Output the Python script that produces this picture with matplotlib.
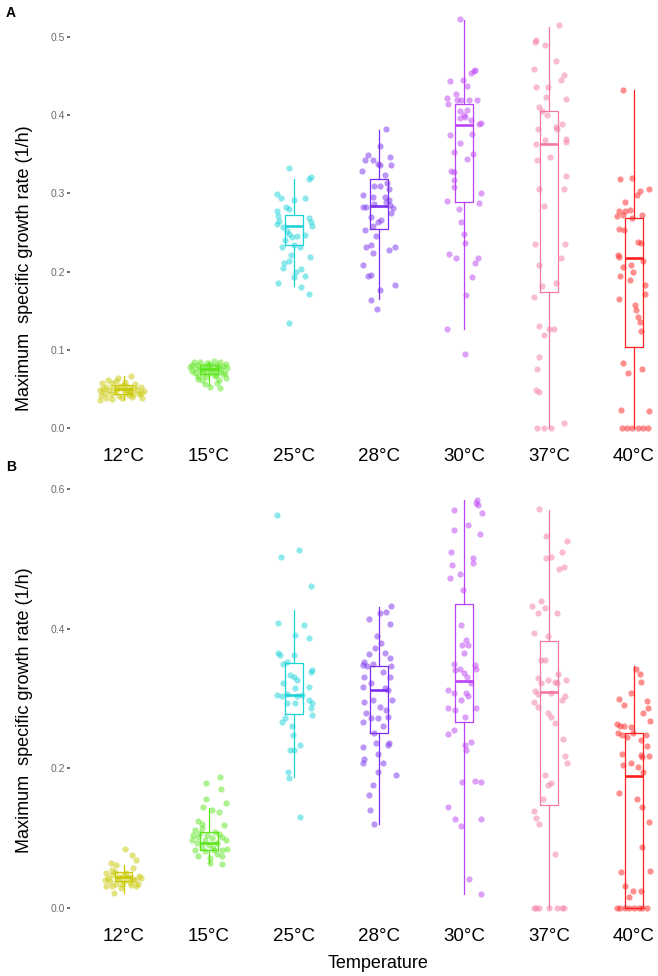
"""Growth rate vs temperature: two stacked box + jitter panels (A, B)."""

import matplotlib
matplotlib.use("Agg")
import matplotlib.pyplot as plt

# ==============================================================================
# DATA
# ==============================================================================

TEMPS = ["12°C", "15°C", "25°C", "28°C", "30°C", "37°C", "40°C"]
COLORS = ["#C8C800", "#5DE61E", "#1CD3D8", "#7A2EF0", "#BD42F5", "#F57AA0", "#FF1F1F"]

# box statistics (per temperature)
A_LO = [0.036, 0.055, 0.181, 0.165, 0.127, 0.000, 0.000]
A_Q1 = [0.044, 0.069, 0.234, 0.254, 0.289, 0.174, 0.104]
A_MED = [0.050, 0.075, 0.258, 0.284, 0.387, 0.363, 0.217]
A_Q3 = [0.055, 0.080, 0.272, 0.318, 0.414, 0.405, 0.268]
A_HI = [0.066, 0.086, 0.319, 0.381, 0.522, 0.513, 0.432]

B_LO = [0.021, 0.064, 0.188, 0.121, 0.020, 0.000, 0.000]
B_Q1 = [0.038, 0.083, 0.278, 0.250, 0.266, 0.148, 0.000]
B_MED = [0.045, 0.093, 0.305, 0.312, 0.325, 0.310, 0.189]
B_Q3 = [0.052, 0.109, 0.351, 0.347, 0.436, 0.382, 0.251]
B_HI = [0.062, 0.143, 0.427, 0.431, 0.584, 0.570, 0.346]

# individual replicates: (jitter offset, growth rate)
A_12 = [(0.09, 0.066), (-0.06, 0.064), (-0.25, 0.057), (-0.14, 0.058), (0.02, 0.059),
        (-0.20, 0.053), (-0.12, 0.052), (-0.04, 0.054), (0.05, 0.053), (0.12, 0.051),
        (0.20, 0.052), (-0.28, 0.049), (-0.17, 0.048), (-0.08, 0.050), (0.00, 0.049),
        (0.08, 0.048), (0.16, 0.049), (0.24, 0.047), (-0.22, 0.045), (-0.10, 0.046),
        (0.03, 0.045), (0.11, 0.044), (-0.26, 0.042), (-0.15, 0.043), (-0.05, 0.041),
        (0.07, 0.042), (0.18, 0.043), (-0.20, 0.039), (-0.02, 0.038), (0.10, 0.040),
        (0.22, 0.038), (-0.28, 0.036), (-0.13, 0.037), (0.00, 0.055), (-0.09, 0.060),
        (0.14, 0.056), (-0.18, 0.061), (0.05, 0.047), (-0.24, 0.050), (0.20, 0.045)]
A_15 = [(-0.17, 0.084), (-0.10, 0.085), (-0.02, 0.083), (0.06, 0.086), (0.14, 0.084),
        (0.20, 0.082), (-0.20, 0.080), (-0.12, 0.081), (-0.05, 0.079), (0.03, 0.080),
        (0.10, 0.081), (0.17, 0.079), (-0.15, 0.077), (-0.07, 0.076), (0.00, 0.077),
        (0.08, 0.076), (0.15, 0.075), (0.22, 0.077), (-0.19, 0.073), (-0.10, 0.074),
        (-0.03, 0.072), (0.05, 0.073), (0.12, 0.072), (0.19, 0.071), (-0.16, 0.070),
        (-0.06, 0.069), (0.02, 0.070), (0.09, 0.068), (0.17, 0.069), (-0.13, 0.066),
        (-0.03, 0.065), (0.07, 0.066), (0.21, 0.064), (-0.08, 0.061), (0.12, 0.062),
        (-0.04, 0.056), (0.10, 0.058), (0.02, 0.053), (0.13, 0.051), (-0.12, 0.063),
        (0.00, 0.081), (-0.22, 0.078), (0.11, 0.078)]
A_25 = [(-0.05, 0.332), (0.18, 0.319), (0.20, 0.321), (0.01, 0.292), (0.13, 0.294),
        (-0.19, 0.299), (-0.15, 0.294), (-0.09, 0.283), (-0.06, 0.280), (-0.20, 0.278),
        (-0.18, 0.271), (-0.17, 0.265), (-0.19, 0.261), (-0.13, 0.257), (-0.08, 0.252),
        (0.18, 0.268), (0.20, 0.263), (0.21, 0.258), (-0.06, 0.248), (-0.02, 0.244),
        (0.04, 0.246), (0.13, 0.247), (-0.14, 0.232), (-0.10, 0.240), (0.01, 0.234),
        (0.07, 0.231), (-0.03, 0.221), (-0.05, 0.213), (0.19, 0.219), (-0.11, 0.211),
        (-0.13, 0.205), (0.09, 0.204), (0.03, 0.200), (0.01, 0.193), (0.13, 0.194),
        (-0.18, 0.185), (0.09, 0.180), (0.18, 0.171), (-0.06, 0.134)]
A_28 = [(0.09, 0.382), (0.01, 0.361), (-0.13, 0.349), (-0.16, 0.343), (-0.07, 0.343),
        (-0.01, 0.338), (0.01, 0.336), (0.13, 0.346), (0.15, 0.336), (-0.20, 0.329),
        (0.07, 0.324), (0.10, 0.313), (0.12, 0.306), (-0.05, 0.309), (0.01, 0.309),
        (-0.18, 0.298), (-0.07, 0.295), (-0.05, 0.287), (-0.15, 0.283), (-0.18, 0.283),
        (0.09, 0.289), (0.13, 0.285), (0.17, 0.281), (0.15, 0.275), (-0.09, 0.270),
        (0.03, 0.266), (-0.01, 0.264), (-0.07, 0.258), (-0.16, 0.253), (-0.03, 0.246),
        (-0.15, 0.231), (-0.09, 0.234), (0.19, 0.232), (0.12, 0.228), (-0.07, 0.224),
        (-0.18, 0.208), (-0.13, 0.194), (-0.09, 0.196), (0.02, 0.176), (0.19, 0.183),
        (-0.09, 0.164), (-0.02, 0.152), (0.07, 0.296), (0.12, 0.292)]
A_30 = [(-0.04, 0.523), (0.12, 0.457), (0.09, 0.454), (0.13, 0.458), (-0.16, 0.444),
        (-0.01, 0.445), (0.04, 0.437), (-0.09, 0.427), (-0.20, 0.422), (-0.18, 0.415),
        (-0.08, 0.419), (-0.03, 0.420), (0.06, 0.419), (0.16, 0.419), (-0.04, 0.406),
        (0.00, 0.400), (0.04, 0.407), (0.08, 0.394), (0.20, 0.390), (0.18, 0.389),
        (-0.16, 0.375), (-0.04, 0.396), (0.02, 0.398), (0.10, 0.376), (-0.04, 0.364),
        (-0.12, 0.353), (0.11, 0.351), (0.04, 0.344), (-0.15, 0.329), (-0.11, 0.327),
        (-0.12, 0.317), (-0.11, 0.308), (0.20, 0.300), (0.18, 0.288), (-0.20, 0.290),
        (-0.06, 0.280), (-0.03, 0.264), (0.00, 0.248), (0.02, 0.236), (-0.17, 0.223),
        (-0.09, 0.217), (0.17, 0.218), (0.13, 0.211), (0.10, 0.193), (0.03, 0.170),
        (-0.20, 0.127), (0.01, 0.095)]
A_37 = [(0.12, 0.515), (-0.15, 0.496), (-0.16, 0.494), (-0.04, 0.490), (0.08, 0.469),
        (-0.18, 0.459), (0.14, 0.445), (0.18, 0.451), (-0.15, 0.436), (-0.01, 0.436),
        (-0.03, 0.423), (0.20, 0.421), (-0.12, 0.410), (-0.08, 0.405), (-0.02, 0.400),
        (0.16, 0.389), (0.08, 0.385), (0.09, 0.383), (-0.13, 0.383), (0.20, 0.369),
        (0.20, 0.366), (-0.15, 0.363), (-0.04, 0.368), (0.01, 0.347), (-0.14, 0.343),
        (0.20, 0.322), (0.18, 0.306), (-0.12, 0.306), (-0.06, 0.284), (-0.16, 0.235),
        (0.19, 0.235), (-0.12, 0.208), (0.14, 0.217), (0.08, 0.185), (-0.08, 0.182),
        (-0.18, 0.168), (-0.11, 0.130), (0.00, 0.127), (0.06, 0.127), (-0.06, 0.119),
        (-0.11, 0.091), (-0.14, 0.076), (-0.15, 0.049), (-0.12, 0.046), (0.18, 0.006),
        (-0.14, 0.000), (-0.06, 0.000), (0.02, 0.000)]
A_40 = [(-0.13, 0.432), (-0.16, 0.319), (-0.02, 0.320), (0.18, 0.306), (0.07, 0.303),
        (0.04, 0.298), (-0.10, 0.289), (-0.17, 0.277), (-0.11, 0.277), (-0.05, 0.279),
        (-0.02, 0.268), (-0.20, 0.271), (-0.13, 0.272), (0.09, 0.272), (-0.18, 0.255),
        (-0.12, 0.253), (0.05, 0.238), (0.08, 0.236), (-0.19, 0.221), (-0.17, 0.219),
        (-0.13, 0.206), (-0.03, 0.208), (0.11, 0.213), (-0.16, 0.194), (-0.01, 0.199),
        (-0.05, 0.189), (0.13, 0.183), (0.13, 0.171), (-0.17, 0.165), (0.01, 0.157),
        (0.03, 0.151), (0.05, 0.142), (0.07, 0.136), (0.08, 0.124), (-0.13, 0.083),
        (0.09, 0.075), (-0.07, 0.070), (-0.15, 0.023), (0.18, 0.022), (-0.14, 0.000),
        (-0.08, 0.000), (-0.02, 0.000), (0.05, 0.000), (0.11, 0.000), (0.16, 0.000)]

B_12 = [(0.02, 0.084), (0.10, 0.076), (0.15, 0.069), (-0.15, 0.064), (-0.09, 0.062),
        (0.11, 0.057), (-0.21, 0.050), (-0.13, 0.047), (-0.05, 0.045), (0.03, 0.050),
        (0.11, 0.042), (0.17, 0.035), (-0.16, 0.038), (-0.09, 0.035), (0.01, 0.038),
        (0.09, 0.033), (-0.20, 0.031), (-0.13, 0.032), (-0.03, 0.028), (0.15, 0.032),
        (-0.11, 0.021), (-0.18, 0.043), (-0.06, 0.041), (0.06, 0.044), (0.18, 0.046),
        (-0.10, 0.052), (0.00, 0.048), (0.13, 0.040), (-0.22, 0.040), (0.08, 0.037),
        (-0.02, 0.034), (0.20, 0.043), (-0.14, 0.055)]
B_15 = [(0.14, 0.187), (-0.03, 0.179), (0.15, 0.171), (-0.03, 0.156), (0.20, 0.151),
        (-0.06, 0.144), (0.12, 0.138), (0.04, 0.140), (-0.12, 0.124), (-0.08, 0.120),
        (-0.16, 0.112), (-0.08, 0.114), (0.18, 0.119), (0.08, 0.109), (-0.18, 0.105),
        (-0.12, 0.102), (-0.04, 0.097), (0.04, 0.100), (0.16, 0.102), (-0.14, 0.093),
        (-0.08, 0.088), (0.00, 0.090), (0.10, 0.093), (0.20, 0.097), (-0.16, 0.083),
        (-0.04, 0.081), (0.06, 0.083), (0.16, 0.083), (0.22, 0.085), (-0.12, 0.074),
        (0.02, 0.071), (0.16, 0.074), (0.02, 0.065), (0.16, 0.063), (-0.20, 0.098),
        (0.12, 0.106), (-0.10, 0.108), (0.05, 0.086), (-0.02, 0.104), (0.10, 0.078)]
B_25 = [(-0.19, 0.563), (-0.15, 0.502), (0.06, 0.513), (0.20, 0.461), (-0.18, 0.408),
        (0.12, 0.405), (0.02, 0.391), (0.18, 0.386), (-0.18, 0.365), (-0.16, 0.362),
        (0.00, 0.362), (-0.12, 0.350), (-0.08, 0.353), (0.22, 0.341), (0.20, 0.338),
        (-0.04, 0.334), (0.00, 0.331), (0.04, 0.326), (-0.12, 0.322), (0.18, 0.317),
        (0.02, 0.315), (-0.20, 0.305), (-0.14, 0.303), (-0.08, 0.306), (0.04, 0.303),
        (0.10, 0.305), (0.18, 0.298), (0.22, 0.293), (0.20, 0.287), (0.22, 0.276),
        (-0.08, 0.293), (0.02, 0.293), (-0.14, 0.267), (-0.10, 0.272), (-0.02, 0.260),
        (-0.01, 0.248), (0.08, 0.233), (-0.04, 0.226), (0.01, 0.226), (-0.07, 0.195),
        (-0.05, 0.186), (0.07, 0.131)]
B_28 = [(0.15, 0.432), (0.09, 0.424), (0.01, 0.422), (-0.12, 0.414), (0.13, 0.407),
        (-0.02, 0.389), (0.03, 0.379), (-0.04, 0.373), (-0.12, 0.364), (0.07, 0.365),
        (0.13, 0.358), (-0.17, 0.353), (-0.19, 0.348), (-0.14, 0.347), (-0.07, 0.350),
        (0.14, 0.346), (0.05, 0.338), (0.13, 0.331), (-0.17, 0.331), (-0.19, 0.317),
        (-0.09, 0.322), (0.07, 0.315), (0.11, 0.312), (0.16, 0.298), (-0.07, 0.298),
        (-0.17, 0.295), (0.09, 0.284), (0.01, 0.288), (-0.15, 0.279), (-0.09, 0.272),
        (-0.01, 0.272), (0.11, 0.274), (-0.18, 0.266), (0.05, 0.260), (-0.05, 0.250),
        (0.12, 0.236), (0.11, 0.233), (-0.19, 0.231), (-0.03, 0.237), (-0.01, 0.221),
        (-0.19, 0.208), (-0.17, 0.213), (0.05, 0.208), (-0.01, 0.195), (0.20, 0.190),
        (-0.07, 0.176), (-0.11, 0.162), (-0.10, 0.140), (-0.05, 0.120)]
B_30 = [(0.16, 0.585), (0.14, 0.580), (0.17, 0.577), (0.21, 0.566), (-0.11, 0.570),
        (0.05, 0.548), (-0.12, 0.542), (0.19, 0.536), (-0.15, 0.510), (-0.14, 0.491),
        (0.11, 0.501), (0.11, 0.494), (-0.16, 0.473), (-0.04, 0.479), (-0.01, 0.455),
        (-0.03, 0.406), (0.03, 0.384), (-0.02, 0.377), (0.05, 0.377), (0.00, 0.365),
        (-0.11, 0.350), (-0.10, 0.341), (-0.04, 0.342), (0.00, 0.336), (0.13, 0.348),
        (0.14, 0.342), (0.04, 0.331), (0.08, 0.322), (-0.19, 0.312), (-0.11, 0.308),
        (-0.03, 0.298), (0.03, 0.308), (0.05, 0.303), (0.14, 0.287), (-0.10, 0.284),
        (-0.18, 0.287), (0.01, 0.274), (-0.18, 0.249), (-0.11, 0.255), (0.08, 0.238),
        (0.03, 0.227), (0.01, 0.234), (-0.02, 0.180), (0.13, 0.182), (0.20, 0.180),
        (-0.19, 0.144), (-0.10, 0.127), (-0.03, 0.117), (0.20, 0.127), (0.06, 0.042),
        (0.20, 0.020)]
B_37 = [(-0.11, 0.571), (-0.03, 0.533), (0.21, 0.526), (0.15, 0.510), (-0.03, 0.501),
        (0.03, 0.503), (0.12, 0.486), (0.18, 0.489), (-0.20, 0.433), (-0.09, 0.440),
        (-0.05, 0.430), (-0.13, 0.423), (0.09, 0.423), (-0.18, 0.394), (-0.01, 0.389),
        (-0.09, 0.355), (-0.05, 0.355), (0.11, 0.335), (-0.13, 0.330), (-0.09, 0.322),
        (-0.01, 0.327), (0.07, 0.324), (0.09, 0.322), (0.20, 0.326), (-0.16, 0.311),
        (-0.13, 0.306), (0.03, 0.308), (0.19, 0.304), (0.16, 0.298), (-0.17, 0.295),
        (-0.13, 0.288), (-0.01, 0.279), (0.03, 0.274), (0.07, 0.265), (0.17, 0.242),
        (0.19, 0.218), (0.21, 0.208), (-0.04, 0.190), (-0.01, 0.176), (0.02, 0.179),
        (-0.07, 0.156), (-0.18, 0.139), (-0.15, 0.129), (-0.11, 0.121), (0.07, 0.078),
        (-0.18, 0.000), (-0.15, 0.000), (-0.11, 0.000), (0.00, 0.000), (0.09, 0.000),
        (0.15, 0.000), (0.18, 0.000)]
B_40 = [(0.02, 0.343), (0.07, 0.335), (0.08, 0.324), (-0.04, 0.308), (-0.18, 0.300),
        (-0.12, 0.291), (0.15, 0.297), (0.17, 0.286), (0.11, 0.279), (0.19, 0.268),
        (-0.20, 0.263), (-0.16, 0.260), (-0.12, 0.260), (-0.04, 0.259), (-0.19, 0.250),
        (-0.14, 0.248), (-0.08, 0.245), (-0.01, 0.251), (0.14, 0.248), (0.08, 0.241),
        (0.15, 0.232), (-0.14, 0.221), (0.08, 0.219), (0.18, 0.217), (0.10, 0.216),
        (-0.13, 0.205), (-0.04, 0.208), (0.05, 0.202), (0.11, 0.195), (-0.18, 0.165),
        (0.04, 0.156), (0.09, 0.144), (0.18, 0.123), (0.10, 0.087), (-0.15, 0.052),
        (0.19, 0.053), (-0.11, 0.031), (-0.01, 0.025), (0.08, 0.025), (-0.06, 0.016),
        (-0.20, 0.000), (-0.16, 0.000), (-0.10, 0.000), (-0.06, 0.000), (0.00, 0.000),
        (0.06, 0.000), (0.10, 0.000), (0.15, 0.000)]

A_POINTS = [A_12, A_15, A_25, A_28, A_30, A_37, A_40]
B_POINTS = [B_12, B_15, B_25, B_28, B_30, B_37, B_40]

# ==============================================================================
# STYLE
# ==============================================================================

W, H = 658, 976
DPI = 100
FONT = ["Liberation Sans", "DejaVu Sans"]
YLABEL = "Maximum  specific growth rate (1/h)"

plt.rcParams.update({
    "font.family": FONT,
    "axes.spines.top": False,
    "axes.spines.right": False,
    "axes.spines.left": False,
    "axes.spines.bottom": False,
})


def px_box(left, top, right, bottom):
    """Axes rectangle in figure fractions from pixel edges."""
    return [left / W, 1 - bottom / H, (right - left) / W, (bottom - top) / H]


def draw_panel(ax, points, lo, q1, med, q3, hi, yticks, ylim):
    stats = []
    for i in range(len(TEMPS)):
        stats.append({"whislo": lo[i], "q1": q1[i], "med": med[i],
                      "q3": q3[i], "whishi": hi[i], "fliers": []})

    for i, color in enumerate(COLORS):
        ax.bxp([stats[i]], positions=[i], widths=0.21, showcaps=False,
               showfliers=False, patch_artist=False,
               boxprops=dict(color=color, linewidth=0.9),
               whiskerprops=dict(color=color, linewidth=0.9),
               medianprops=dict(color=color, linewidth=1.9))
        xs = [i + dx for dx, _ in points[i]]
        ys = [v for _, v in points[i]]
        ax.scatter(xs, ys, s=20, color=color, alpha=0.5, linewidths=0, zorder=3)

    ax.set_xlim(-0.629, 6.283)
    ax.set_ylim(*ylim)
    ax.set_xticks(range(len(TEMPS)))
    ax.set_xticklabels(TEMPS, fontsize=13.5, color="black")
    ax.tick_params(axis="x", length=0, pad=2)
    ax.set_yticks(yticks)
    ax.set_yticklabels([f"{t:.1f}" for t in yticks], fontsize=7.5, color="#6b6b6b")
    ax.tick_params(axis="y", length=2.5, width=1.2, color="#555555", pad=1)


def main():
    fig = plt.figure(figsize=(W / DPI, H / DPI), dpi=DPI)

    ax_a = fig.add_axes(px_box(70, 5, 658, 445))
    draw_panel(ax_a, A_POINTS, A_LO, A_Q1, A_MED, A_Q3, A_HI,
               [0.0, 0.1, 0.2, 0.3, 0.4, 0.5], (-0.0217, 0.541))

    ax_b = fig.add_axes(px_box(70, 478, 658, 925))
    draw_panel(ax_b, B_POINTS, B_LO, B_Q1, B_MED, B_Q3, B_HI,
               [0.0, 0.2, 0.4, 0.6], (-0.0243, 0.6158))

    fig.text(25 / W, 1 - 268 / H, YLABEL, rotation=90, ha="center", va="center",
             fontsize=13)
    fig.text(25 / W, 1 - 710 / H, YLABEL, rotation=90, ha="center", va="center",
             fontsize=13)
    fig.text(378 / W, 1 - 964 / H, "Temperature", ha="center", va="center",
             fontsize=13)

    fig.text(6 / W, 1 - 6 / H, "A", fontsize=10, fontweight="bold", va="top")
    fig.text(6 / W, 1 - 460 / H, "B", fontsize=10, fontweight="bold", va="top")

    fig.savefig("out.png", dpi=DPI, facecolor="white")
    plt.close(fig)


if __name__ == "__main__":
    main()
